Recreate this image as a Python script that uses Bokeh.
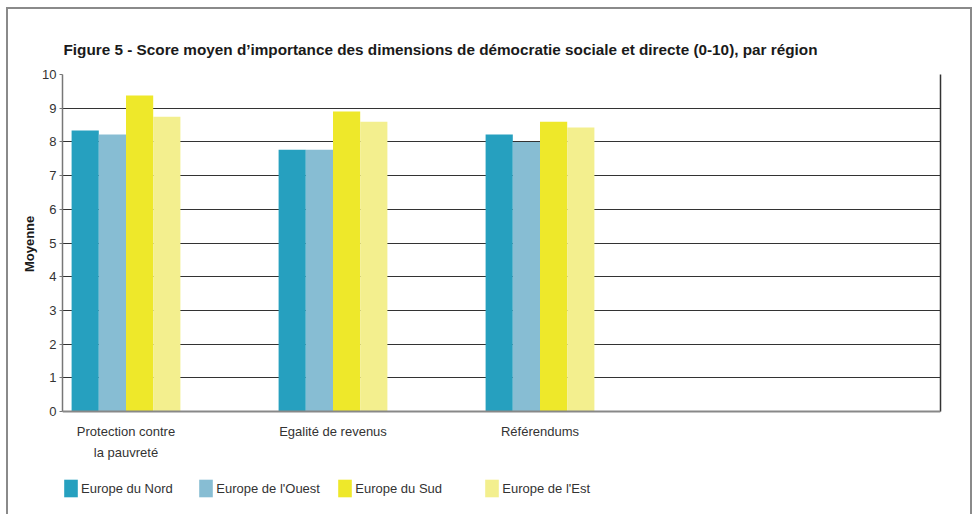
from bokeh.plotting import figure
from bokeh.layouts import column
from bokeh.models import (ColumnDataSource, FixedTicker, Legend, LegendItem, Range1d,
                          Label, Span, LinearAxis)
from bokeh.embed import file_html
from bokeh.resources import INLINE

# ---- data ----
dimensions = ["Protection contre\nla pauvreté", "Egalité de revenus", "Référendums"]
regions = ["Europe du Nord", "Europe de l'Ouest", "Europe du Sud", "Europe de l'Est"]
nord = [8.34, 7.77, 8.22]
ouest = [8.22, 7.77, 8.00]
sud = [9.38, 8.90, 8.60]
est = [8.75, 8.60, 8.43]
colors = ["#26a0bf", "#87bdd3", "#eee82a", "#f3ef8e"]
y_ticks = list(range(0, 11))
title = "Figure 5 - Score moyen d’importance des dimensions de démocratie sociale et directe (0-10), par région"
y_title = "Moyenne"

series = [nord, ouest, sud, est]
FONT = "Liberation Sans"

# page geometry (pixels)
OX, OY = 8, 9                 # inner origin inside the bordered container
W, H = 962, 505               # figure size
PAGE_B = OY + H               # page y of frame bottom
FL, FT, FR, Y0 = 62, 74, 940, 411   # plot area left/top/right and y=0 line
px_per_y = (Y0 - FT) / 10.0
y_start = -(PAGE_B - Y0) / px_per_y
frame_w = FR - FL
px_per_x = 207.0
x0 = -(125.5 - FL) / px_per_x

p = figure(width=W, height=H, x_range=Range1d(x0, x0 + frame_w / px_per_x),
           y_range=Range1d(y_start, 10), x_axis_type=None,
           output_backend="svg", toolbar_location=None,
           min_border_left=FL - OX, min_border_right=OX + W - FR,
           min_border_top=FT - OY, min_border_bottom=0)
p.background_fill_color = "white"
p.border_fill_color = "white"
p.outline_line_color = None

# title
p.title.text = title
p.title.align = "left"
p.title.text_font = FONT
p.title.text_font_size = "15.3px"
p.title.text_font_style = "bold"
p.title.text_color = "#1a1a1a"
p.title.offset = 1
p.title.standoff = 34

xs = list(range(len(dimensions)))
bw = 27.2 / px_per_x
offsets = [-1.5, -0.5, 0.5, 1.5]
renderers = []
for vals, off, col in zip(series, offsets, colors):
    src = ColumnDataSource(dict(x=[x + off * bw for x in xs], top=vals))
    r = p.vbar(x="x", top="top", bottom=0, width=bw, source=src,
               fill_color=col, line_color=None)
    renderers.append(r)

# y axis
p.yaxis.ticker = FixedTicker(ticks=y_ticks)
p.yaxis.bounds = (0, 10)
p.yaxis.major_label_text_font = FONT
p.yaxis.major_label_text_font_size = "13px"
p.yaxis.major_label_text_color = "#333333"
p.yaxis.major_tick_out = 3
p.yaxis.major_tick_in = 0
p.yaxis.minor_tick_line_color = None
p.yaxis.major_tick_line_color = "#777777"
p.yaxis.axis_line_color = "#777777"
p.yaxis.axis_line_width = 1.5
p.yaxis.major_label_standoff = 3
# the frame extends below the value axis; pad the label so it centres on 0-10
p.yaxis.axis_label = "\u00a0" * 28 + y_title
p.yaxis.axis_label_text_font = FONT
p.yaxis.axis_label_text_font_size = "13px"
p.yaxis.axis_label_text_font_style = "bold"
p.yaxis.axis_label_text_color = "#1a1a1a"
p.yaxis.axis_label_standoff = 2

# right border of the plot area
right_axis = LinearAxis(ticker=FixedTicker(ticks=[]), bounds=(0, 10),
                        axis_line_color="#333333", axis_line_width=1.5,
                        major_tick_line_color=None, minor_tick_line_color=None,
                        major_label_text_font_size="0px")
p.add_layout(right_axis, "right")

p.ygrid.ticker = FixedTicker(ticks=y_ticks)
p.ygrid.grid_line_color = "#333333"
p.ygrid.grid_line_width = 1

# x axis line at 0
p.add_layout(Span(location=0, dimension="width", line_color="#888888", line_width=2))

# category labels
for i, d in enumerate(dimensions):
    for j, line in enumerate(d.split("\n")):
        p.add_layout(Label(x=i, y=PAGE_B - 431 - 21 * j, x_units="data", y_units="screen",
                           text=line, text_align="center", text_baseline="middle",
                           text_font=FONT, text_font_size="13px", text_color="#333333"))

# legend: one block per region
legend_x = [61, 199, 338, 485]
for name, r, lx in zip(regions, renderers, legend_x):
    lg = Legend(items=[LegendItem(label=name, renderers=[r])],
                location=(max(0, lx - 1.7 - FL), PAGE_B - 499.2),
                glyph_width=17, glyph_height=22, label_height=22, label_standoff=2,
                padding=0, margin=0, border_line_color=None, background_fill_alpha=0,
                label_text_font=FONT, label_text_font_size="13px",
                label_text_color="#333333")
    p.add_layout(lg)

layout = column(p, styles={"margin-left": "6px", "margin-top": "7px",
                           "border-left": "2px solid #8a8a8a",
                           "border-top": "2px solid #8a8a8a",
                           "border-right": "2px solid #8a8a8a"})

open("out.html", "w").write(file_html(layout, INLINE))
